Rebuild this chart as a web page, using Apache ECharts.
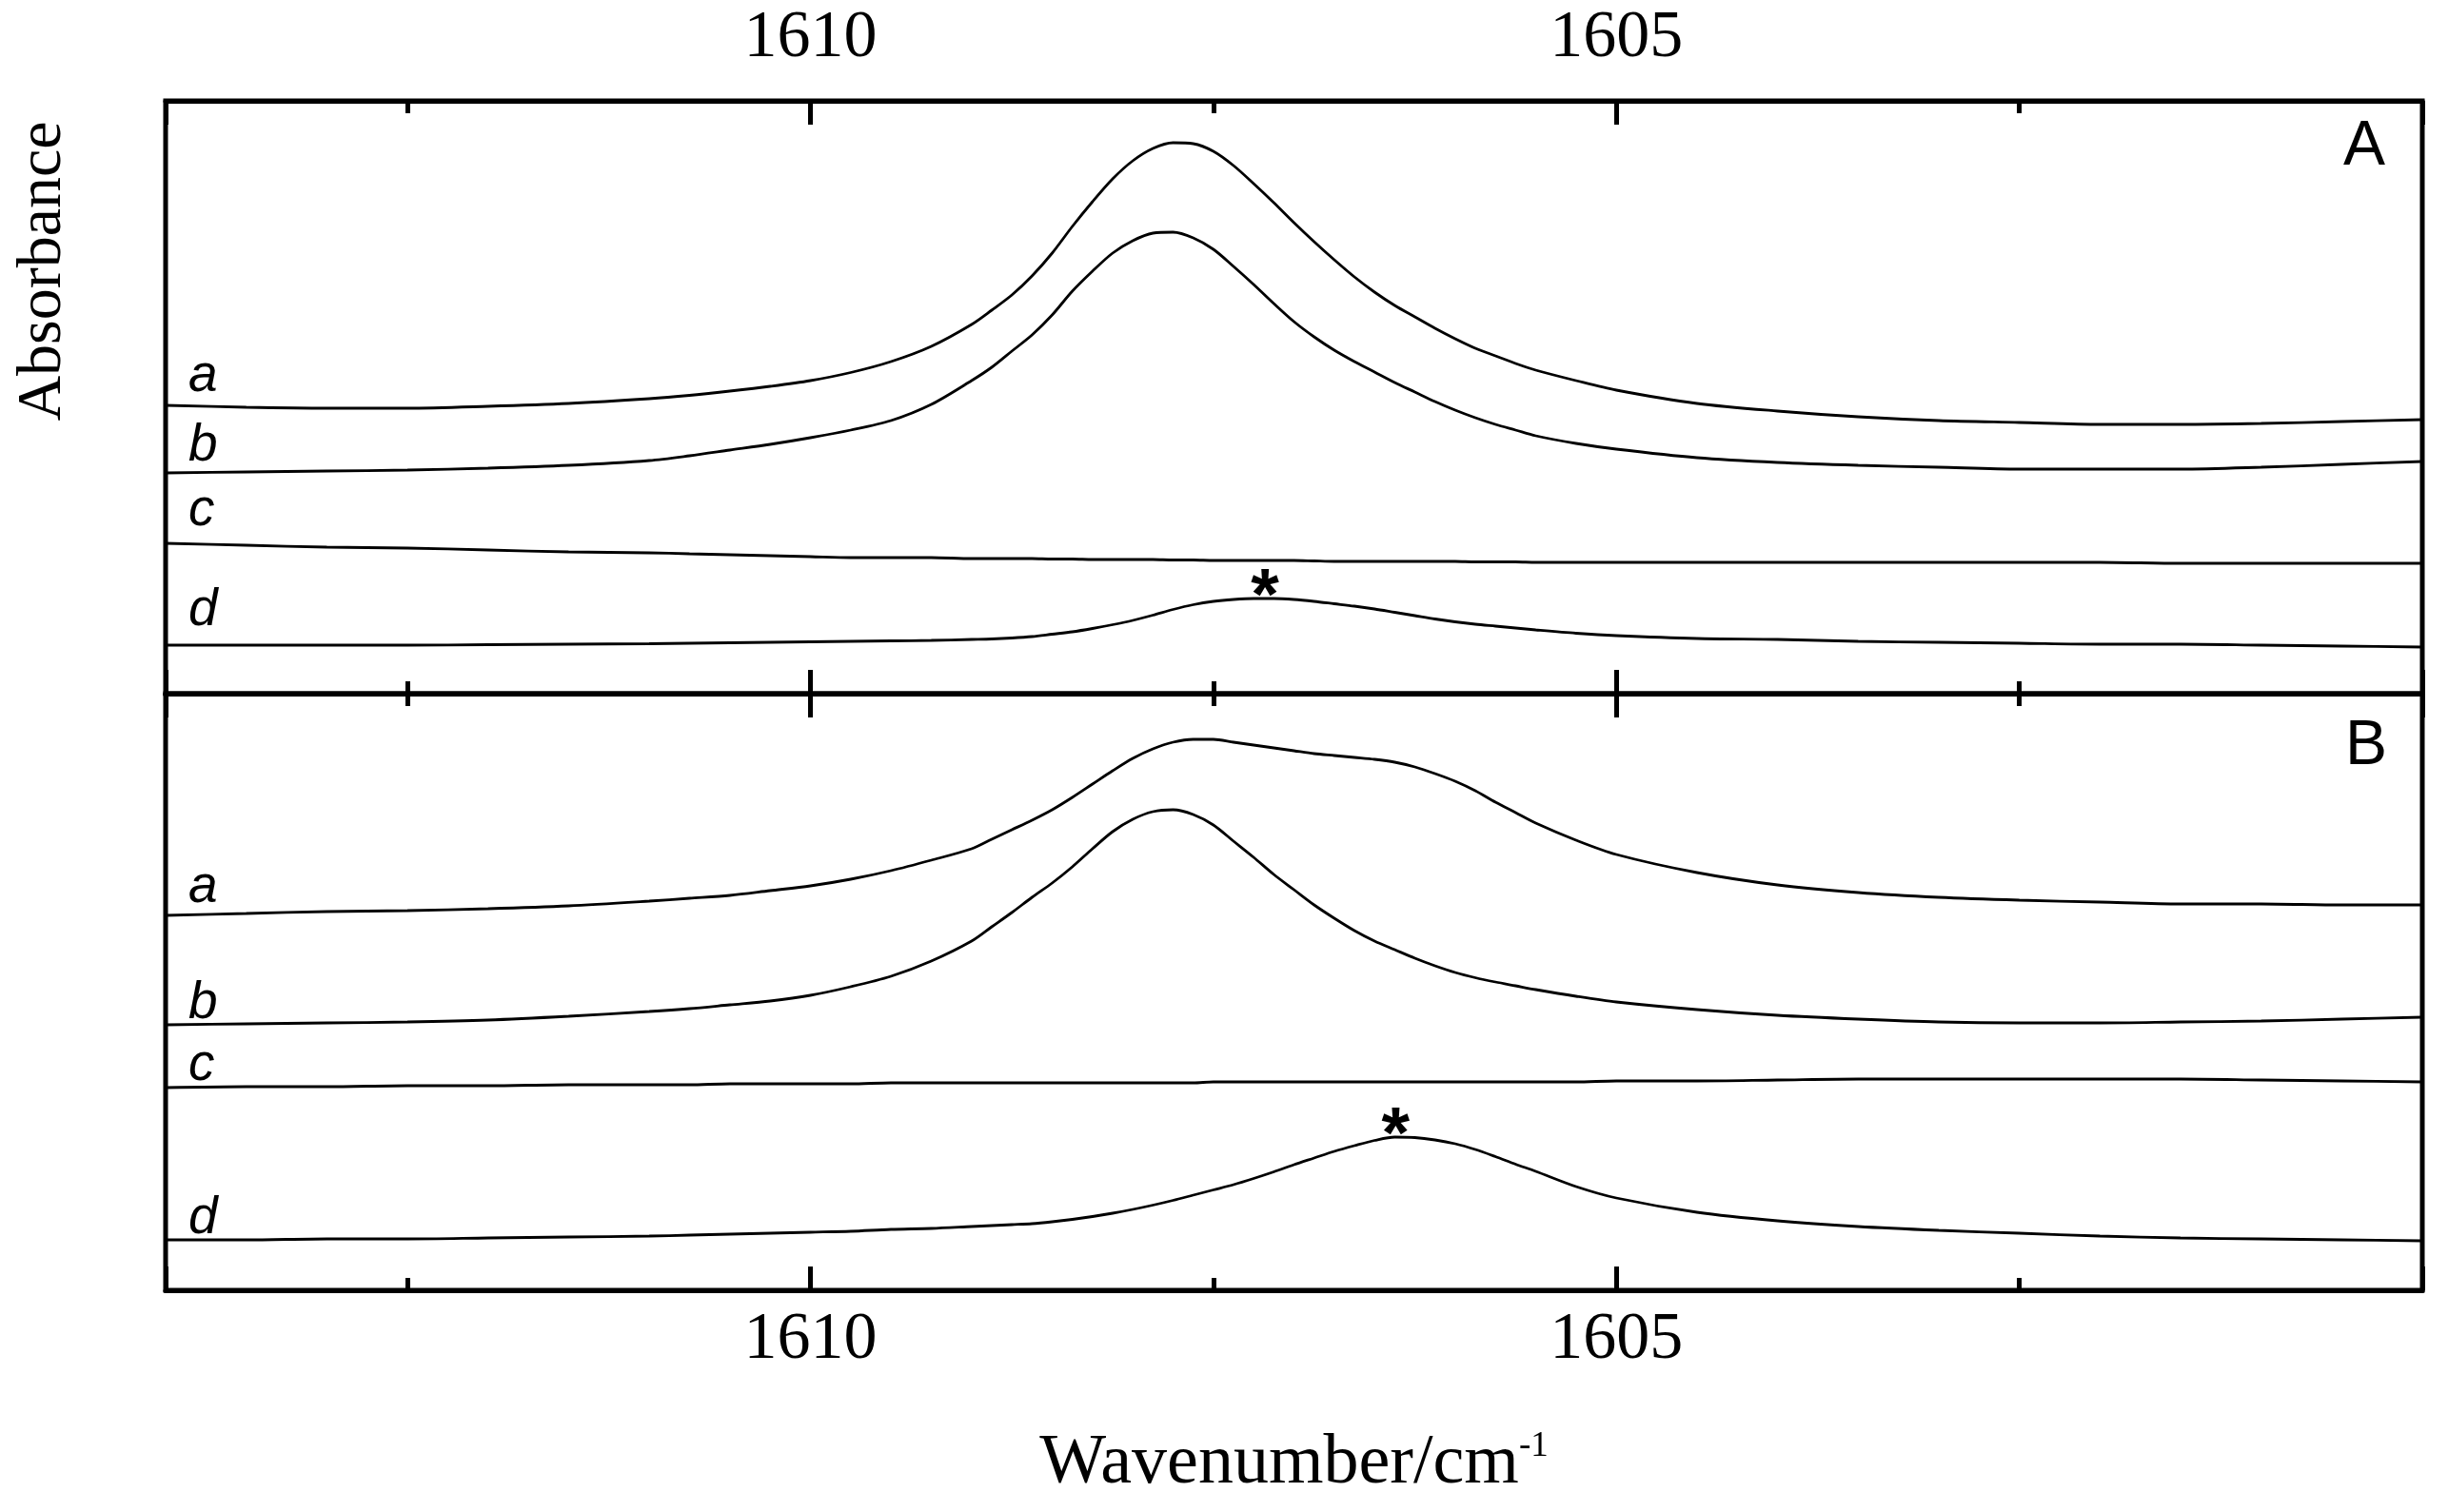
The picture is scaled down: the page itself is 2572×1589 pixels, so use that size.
<!DOCTYPE html>
<html>
<head>
<meta charset="utf-8">
<title>Absorbance spectra</title>
<script src="https://cdn.jsdelivr.net/npm/echarts@6.0.0/dist/echarts.min.js"></script>
<style>
    html, body { margin: 0; padding: 0; background: #fff; }
    #chart { width: 2572px; height: 1589px; }
</style>
</head>
<body>
<div id="chart"></div>
<script>
// wavenumber grid (cm-1), finer around the bands
const wavenumbers = [1614, 1613.5, 1613, 1612.5, 1612, 1611.5, 1611,
    1610.75, 1610.5, 1610.25, 1610, 1609.75, 1609.5, 1609.25, 1609,
    1608.875, 1608.75, 1608.625, 1608.5, 1608.375, 1608.25, 1608.125, 1608,
    1607.875, 1607.75, 1607.625, 1607.5, 1607.375, 1607.25, 1607.125, 1607,
    1606.875, 1606.75, 1606.625, 1606.5, 1606.375, 1606.25, 1606.125, 1606,
    1605.875, 1605.75, 1605.625, 1605.5, 1605.25, 1605,
    1604.5, 1604, 1603.5, 1603, 1602.5, 1602, 1601.5, 1601, 1600.5, 1600]

const curveNames = ['a', 'b', 'c', 'd']

// panel A (offset absorbance, arbitrary units)
const panelA_a = [3.03, 3.01, 3.00, 3.00, 3.02, 3.05, 3.10,
    3.135, 3.18, 3.23, 3.29, 3.375, 3.49, 3.65, 3.88,
    4.03, 4.19, 4.39, 4.63, 4.91, 5.17, 5.41, 5.60,
    5.73, 5.79, 5.78, 5.70, 5.55, 5.36, 5.16, 4.95,
    4.75, 4.56, 4.38, 4.22, 4.08, 3.96, 3.84, 3.73,
    3.63, 3.55, 3.47, 3.40, 3.29, 3.19,
    3.05, 2.97, 2.91, 2.87, 2.85, 2.83, 2.83, 2.84, 2.86, 2.88]
const panelA_b = [2.32, 2.33, 2.34, 2.35, 2.37, 2.40, 2.45,
    2.50, 2.56, 2.62, 2.69, 2.77, 2.87, 3.04, 3.29,
    3.43, 3.60, 3.77, 3.98, 4.23, 4.44, 4.63, 4.76,
    4.84, 4.85, 4.79, 4.67, 4.49, 4.30, 4.10, 3.91,
    3.75, 3.61, 3.49, 3.38, 3.27, 3.17, 3.07, 2.98,
    2.90, 2.83, 2.77, 2.71, 2.63, 2.57,
    2.48, 2.43, 2.40, 2.38, 2.36, 2.36, 2.36, 2.38, 2.41, 2.44]
const panelA_c = [1.58, 1.56, 1.54, 1.53, 1.51, 1.49, 1.48,
    1.47, 1.46, 1.45, 1.44, 1.43, 1.43, 1.43, 1.42,
    1.42, 1.42, 1.42, 1.415, 1.415, 1.41, 1.41, 1.41,
    1.41, 1.405, 1.405, 1.40, 1.40, 1.40, 1.40, 1.40,
    1.395, 1.39, 1.39, 1.39, 1.39, 1.39, 1.39, 1.39,
    1.385, 1.385, 1.385, 1.38, 1.38, 1.38,
    1.38, 1.38, 1.38, 1.38, 1.38, 1.38, 1.37, 1.37, 1.37, 1.37]
const panelA_d = [0.51, 0.51, 0.51, 0.51, 0.515, 0.52, 0.525,
    0.53, 0.535, 0.54, 0.545, 0.55, 0.555, 0.56, 0.57,
    0.575, 0.585, 0.60, 0.625, 0.65, 0.685, 0.725, 0.77,
    0.825, 0.885, 0.935, 0.97, 0.99, 1.00, 1.00, 0.99,
    0.97, 0.945, 0.92, 0.89, 0.855, 0.82, 0.785, 0.755,
    0.73, 0.71, 0.69, 0.67, 0.635, 0.61,
    0.58, 0.57, 0.55, 0.54, 0.53, 0.52, 0.52, 0.51, 0.50, 0.49]

// panel B
const panelB_a = [3.94, 3.96, 3.98, 3.99, 4.01, 4.04, 4.09,
    4.12, 4.15, 4.20, 4.25, 4.32, 4.41, 4.52, 4.64,
    4.74, 4.84, 4.94, 5.05, 5.18, 5.32, 5.46, 5.59,
    5.69, 5.76, 5.79, 5.79, 5.76, 5.73, 5.70, 5.67,
    5.64, 5.62, 5.60, 5.58, 5.55, 5.50, 5.43, 5.35,
    5.25, 5.13, 5.02, 4.91, 4.73, 4.58,
    4.39, 4.26, 4.18, 4.13, 4.10, 4.08, 4.06, 4.06, 4.05, 4.05]
const panelB_b = [2.79, 2.80, 2.81, 2.82, 2.84, 2.88, 2.93,
    2.96, 3.00, 3.04, 3.10, 3.19, 3.30, 3.46, 3.67,
    3.82, 3.97, 4.13, 4.28, 4.45, 4.64, 4.82, 4.95,
    5.03, 5.05, 5.00, 4.89, 4.72, 4.55, 4.37, 4.21,
    4.05, 3.91, 3.78, 3.67, 3.58, 3.49, 3.41, 3.34,
    3.285, 3.24, 3.20, 3.16, 3.09, 3.03,
    2.95, 2.89, 2.85, 2.82, 2.81, 2.81, 2.82, 2.83, 2.85, 2.87]
const panelB_c = [2.13, 2.14, 2.14, 2.15, 2.15, 2.16, 2.16,
    2.16, 2.17, 2.17, 2.17, 2.17, 2.18, 2.18, 2.18,
    2.18, 2.18, 2.18, 2.18, 2.18, 2.18, 2.18, 2.18,
    2.18, 2.18, 2.18, 2.19, 2.19, 2.19, 2.19, 2.19,
    2.19, 2.19, 2.19, 2.19, 2.19, 2.19, 2.19, 2.19,
    2.19, 2.19, 2.19, 2.19, 2.19, 2.20,
    2.20, 2.21, 2.22, 2.22, 2.22, 2.22, 2.22, 2.21, 2.20, 2.19]
const panelB_d = [0.53, 0.53, 0.54, 0.54, 0.55, 0.56, 0.57,
    0.58, 0.59, 0.60, 0.61, 0.62, 0.64, 0.65, 0.67,
    0.68, 0.69, 0.70, 0.72, 0.745, 0.775, 0.81, 0.85,
    0.895, 0.945, 1.00, 1.055, 1.11, 1.175, 1.245, 1.32,
    1.39, 1.46, 1.52, 1.575, 1.61, 1.605, 1.58, 1.54,
    1.48, 1.405, 1.325, 1.25, 1.09, 0.97,
    0.82, 0.73, 0.67, 0.63, 0.60, 0.57, 0.55, 0.54, 0.53, 0.52]

// band maxima marked with an asterisk [wavenumber, value]
const starA = [1607.18, 1.00]
const starB = [1606.37, 1.61]

const panels = [
    { curves: [panelA_a, panelA_b, panelA_c, panelA_d], xAxisIndex: 0, star: starA, labelDy: [-3, -1, -7, -9] },
    { curves: [panelB_a, panelB_b, panelB_c, panelB_d], xAxisIndex: 3, star: starB, labelDy: [-2, 5, 4, 5] }
]

const serif = 'Liberation Serif'
const sans = 'Liberation Sans'

function xAxisFor(gridIndex, position, withLabels, margin) {
    return {
        type: 'value',
        gridIndex: gridIndex,
        position: position,
        min: 1600,
        max: 1614,
        interval: 5,
        inverse: true,
        axisLine: { show: true, onZero: false, lineStyle: { color: '#000', width: 5 } },
        axisTick: { show: true, inside: true, length: 25, lineStyle: { color: '#000', width: 5 } },
        minorTick: { show: true, splitNumber: 2, length: 13, lineStyle: { color: '#000', width: 5 } },
        splitLine: { show: false },
        minorSplitLine: { show: false },
        axisLabel: {
            show: withLabels,
            margin: margin,
            showMinLabel: false,
            showMaxLabel: false,
            formatter: (v) => String(v),
            fontFamily: serif,
            fontSize: 70,
            color: '#000'
        }
    }
}

const series = []
panels.forEach((panel, p) => {
    panel.curves.forEach((values, k) => {
        const marks = [{
            coord: [wavenumbers[0], values[0]],
            label: {
                show: true,
                formatter: curveNames[k],
                position: 'top',
                distance: 0,
                align: 'left',
                offset: [24, panel.labelDy[k]],
                fontFamily: sans,
                fontStyle: 'italic',
                fontSize: 55,
                color: '#000'
            }
        }]
        if (k === 3) {
            marks.push({
                coord: panel.star,
                label: {
                    show: true,
                    formatter: '*',
                    position: 'inside',
                    fontFamily: sans,
                    fontWeight: 'bold',
                    fontSize: 76,
                    color: '#000'
                }
            })
        }
        series.push({
            name: (p === 0 ? 'A-' : 'B-') + curveNames[k],
            type: 'line',
            xAxisIndex: panel.xAxisIndex,
            yAxisIndex: p,
            data: wavenumbers.map((w, i) => [w, values[i]]),
            smooth: 0.3,
            symbol: 'none',
            silent: true,
            lineStyle: { color: '#000', width: 2.8 },
            markPoint: {
                silent: true,
                symbol: 'circle',
                symbolSize: 0,
                animation: false,
                data: marks
            }
        })
    })
})

const bottomAxis = xAxisFor(1, 'bottom', true, 18)
bottomAxis.name = '{m|Wavenumber/cm}{s|-1}'
bottomAxis.nameLocation = 'middle'
bottomAxis.nameGap = 146
bottomAxis.nameTextStyle = {
    color: '#000',
    fontFamily: serif,
    fontSize: 74,
    rich: {
        m: { fontFamily: serif, fontSize: 74, color: '#000' },
        s: { fontFamily: serif, fontSize: 37, color: '#000', verticalAlign: 'top' }
    }
}

const chart = echarts.init(document.getElementById('chart'), null, { renderer: 'canvas' })
chart.setOption({
    backgroundColor: '#fff',
    animation: false,
    grid: [
        { left: 174, right: 27, top: 106, height: 623, show: true, borderColor: '#000', borderWidth: 5 },
        { left: 174, right: 27, top: 729, height: 627, show: true, borderColor: '#000', borderWidth: 5 }
    ],
    xAxis: [
        xAxisFor(0, 'top', true, 30),
        xAxisFor(0, 'bottom', false, 8),
        xAxisFor(1, 'top', false, 8),
        bottomAxis
    ],
    yAxis: [
        { type: 'value', gridIndex: 0, min: 0, max: 6.23, show: false },
        { type: 'value', gridIndex: 1, min: 0, max: 6.27, show: false }
    ],
    graphic: [
        {
            type: 'text', x: 46, y: 285, rotation: Math.PI / 2,
            style: { text: 'Absorbance', fontFamily: serif, fontSize: 66, fill: '#000', align: 'center', verticalAlign: 'middle' }
        },
        {
            type: 'text', x: 2484, y: 155,
            style: { text: 'A', fontFamily: sans, fontSize: 66, fill: '#000', align: 'center', verticalAlign: 'middle' }
        },
        {
            type: 'text', x: 2486, y: 785,
            style: { text: 'B', fontFamily: sans, fontSize: 66, fill: '#000', align: 'center', verticalAlign: 'middle' }
        }
    ],
    series: series
})
</script>
</body>
</html>
